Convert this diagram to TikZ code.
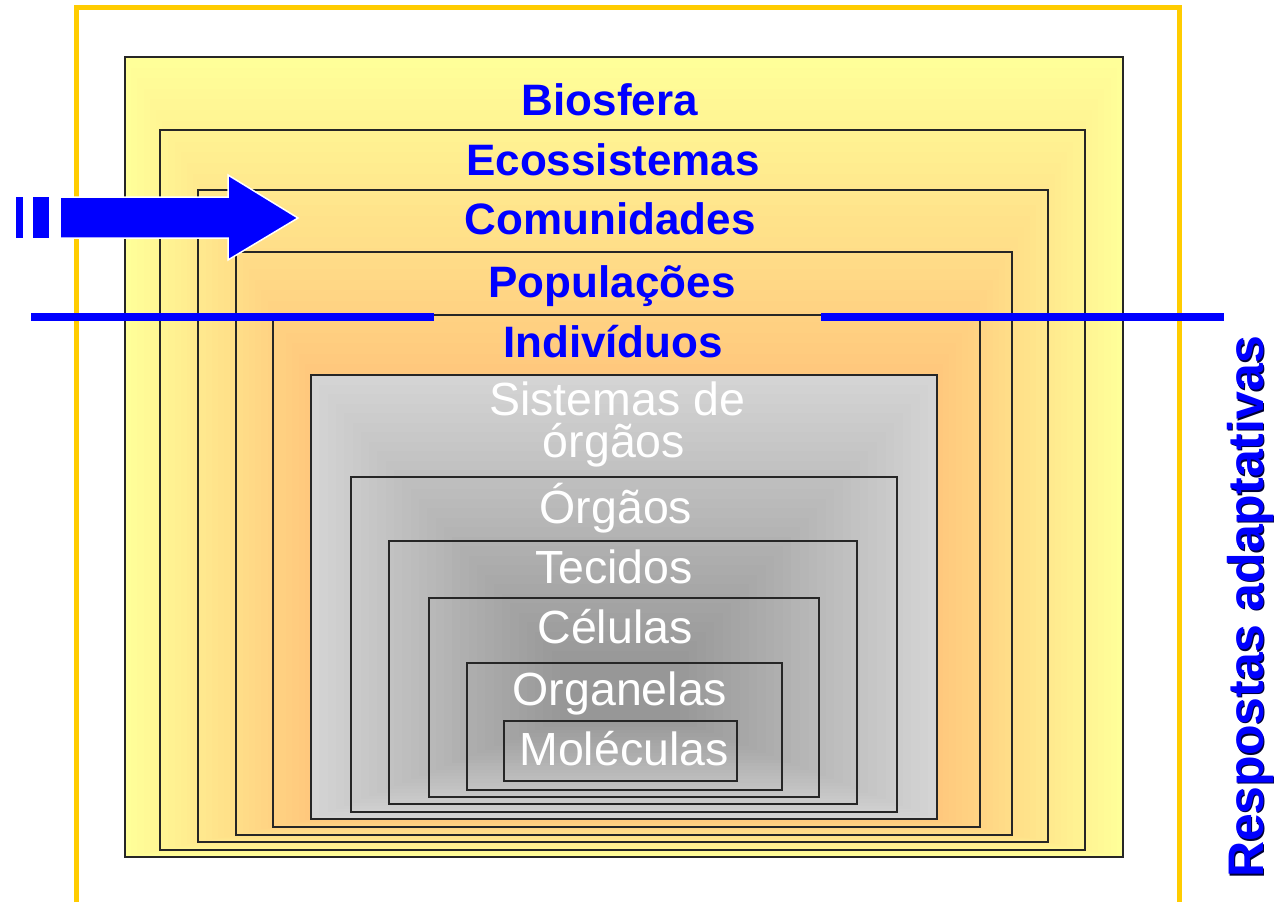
\documentclass[tikz,border=0pt]{standalone}
\usepackage{fontspec}
\setmainfont{Liberation Sans}
\definecolor{frameY}{HTML}{FFCC00}
\definecolor{yout}{HTML}{FFFF99}
\definecolor{yin}{HTML}{FFC67C}
\definecolor{gout}{HTML}{D4D4D4}
\definecolor{gin}{HTML}{979797}
\definecolor{lblue}{HTML}{0000FF}
\definecolor{shadowblue}{HTML}{000033}
\begin{document}
\begin{tikzpicture}[x=1pt,y=-1pt,
  levelbox/.style={draw=black!85,line width=2.5pt},
  bluelabel/.style={text=lblue,font=\fontsize{44}{44}\selectfont\bfseries,inner sep=0pt,anchor=base},
  graylabel/.style={text=white,font=\fontsize{46.5}{46.5}\selectfont,inner sep=0pt,anchor=base},
  bluebar/.style={lblue,line width=8pt}]

\useasboundingbox (0,0) rectangle (1274,902);
\fill[white] (0,0) rectangle (1274,902);

% yellow rectangular gradient
\foreach \i in {0,...,30}{
  \pgfmathsetmacro\t{\i/30}
  \pgfmathsetmacro\xa{125+\t*(311-125)}
  \pgfmathsetmacro\ya{57+\t*(375-57)}
  \pgfmathsetmacro\xb{1123+\t*(937-1123)}
  \pgfmathsetmacro\yb{857+\t*(819-857)}
  \pgfmathsetmacro\pc{100*\t}
  \fill[yin!\pc!yout] (\xa,\ya) rectangle (\xb,\yb);
}
% gray rectangular gradient
\foreach \i in {0,...,30}{
  \pgfmathsetmacro\t{\i/30}
  \pgfmathsetmacro\xa{311+\t*(560-311)}
  \pgfmathsetmacro\ya{375+\t*(660-375)}
  \pgfmathsetmacro\xb{937+\t*(680-937)}
  \pgfmathsetmacro\yb{819+\t*(720-819)}
  \pgfmathsetmacro\pc{100*\t}
  \fill[gin!\pc!gout] (\xa,\ya) rectangle (\xb,\yb);
}

% nested level boxes
\draw[levelbox] (125,57) rectangle (1123,857);
\draw[levelbox] (160,130) rectangle (1085,850);
\draw[levelbox] (198,190) rectangle (1048,842);
\draw[levelbox] (236,252) rectangle (1012,835);
\draw[levelbox] (273,315) rectangle (980,827);
\draw[levelbox] (311,375) rectangle (937,819);
\draw[levelbox] (351,477) rectangle (897,812);
\draw[levelbox] (389,541) rectangle (857,804);
\draw[levelbox] (429,598) rectangle (819,797);
\draw[levelbox] (467,663) rectangle (782,790);
\draw[levelbox] (504,721) rectangle (737,781);

% open yellow frame
\draw[frameY,line width=5pt] (76.5,902) -- (76.5,7.5) -- (1179.5,7.5) -- (1179.5,902);

% labels
\node[bluelabel] (bio) at (610,115) {Biosfera};
\node[bluelabel] (eco) at (613,175) {Ecossistemas};
\node[bluelabel] (com) at (610,234) {Comunidades};
\node[bluelabel] (pop) at (612,297) {Populações};
\node[bluelabel] (ind) at (613,357) {Indivíduos};
\node[graylabel] (sis1) at (617,415) {Sistemas de};
\node[graylabel] (sis2) at (614,457) {órgãos};
\node[graylabel] (org) at (616,523) {Órgãos};
\node[graylabel] (tec) at (614,583) {Tecidos};
\node[graylabel] (cel) at (615,643) {Células};
\node[graylabel] (ogn) at (620,705) {Organelas};
\node[graylabel] (mol) at (624,765) {Moléculas};

% horizontal blue line split around Indivíduos
\coordinate (lineL1) at (31,317);
\coordinate (lineL2) at (434,317);
\coordinate (lineR1) at (821,317);
\coordinate (lineR2) at (1224,317);
\draw[bluebar] (lineL1) -- (lineL2);
\draw[bluebar] (lineR1) -- (lineR2);

% big arrow with dashed tail
\filldraw[fill=lblue,draw=white,line width=1.5pt]
  (60,197) -- (228,197) -- (228,175) -- (298,218) -- (228,260) -- (228,238) -- (60,238) -- cycle;
\fill[lblue] (16,197) rectangle (23,238);
\fill[lblue] (33,197) rectangle (49,238);

% vertical label
\node[rotate=90,anchor=base,inner sep=0pt,text=shadowblue,font=\fontsize{50}{50}\selectfont\bfseries] (respsh) at (1264.5,608.5) {Respostas adaptativas};
\node[rotate=90,anchor=base,inner sep=0pt,text=lblue,font=\fontsize{50}{50}\selectfont\bfseries] (resp) at (1263,607) {Respostas adaptativas};
\end{tikzpicture}
\end{document}
